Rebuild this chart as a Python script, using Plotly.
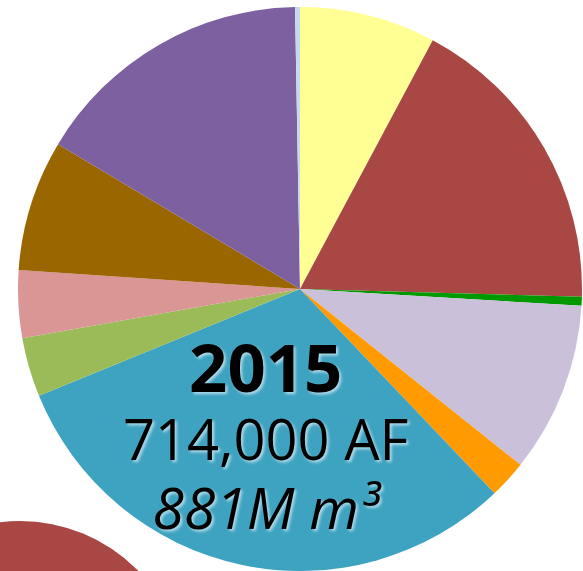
import plotly.graph_objects as go

# slices clockwise from 12 o'clock, thousand acre-feet (total 714,000 AF)
labels = ["Sector 1", "Sector 2", "Sector 3", "Sector 4", "Sector 5", "Sector 6",
          "Sector 7", "Sector 8", "Sector 9", "Sector 10", "Sector 11"]
values_kaf = [55.7, 125.9, 3.7, 69.7, 15.5, 220.9, 24.2, 27.6, 53.6, 115.2, 2.0]
colors = ["#FFFF94", "#A94744", "#009A00", "#CBC0DA", "#FF9A00", "#3EA3C0",
          "#9BBB59", "#D99694", "#996600", "#7D60A0", "#C6D9F1"]

year_label = "2015"
total_af = "714,000 AF"
total_m3 = "881M m³"

W, H = 583, 571

fig = go.Figure(go.Pie(
    labels=labels,
    values=values_kaf,
    marker=dict(colors=colors, line=dict(width=0)),
    sort=False,
    direction="clockwise",
    rotation=0,
    textinfo="none",
    hoverinfo="label+value+percent",
    showlegend=False,
    domain=dict(x=[18 / W, 582 / W], y=[0, 564 / H]),
))

centre_text = ("<span style='font-size:67px'><b>" + year_label + "</b></span><br>"
               "<span style='font-size:56px'>" + total_af + "</span><br>"
               "<span style='font-size:57px'><i>" + total_m3 + "</i></span>")
fig.add_annotation(x=265 / W, y=1 - 433 / H, xref="paper", yref="paper",
                   xanchor="center", yanchor="middle", showarrow=False,
                   text=centre_text,
                   font=dict(family="Open Sans", size=52.5, color="black",
                             shadow="2px 2px 3px rgba(190,225,240,0.9)"))

# edge of the neighbouring chart peeking in at bottom-left
fig.add_shape(type="circle", xref="paper", yref="paper", layer="below",
              x0=(20 - 165) / W, x1=(20 + 165) / W,
              y0=1 - (686 + 165) / H, y1=1 - (686 - 165) / H,
              fillcolor="#A94744", line=dict(width=0))

fig.update_layout(width=W, height=H, margin=dict(l=0, r=0, t=0, b=0),
                  paper_bgcolor="white", plot_bgcolor="white")
fig.write_html("out.html", config={"displayModeBar": False},
               post_script="document.body.style.margin='0';document.body.style.overflow='hidden';")
